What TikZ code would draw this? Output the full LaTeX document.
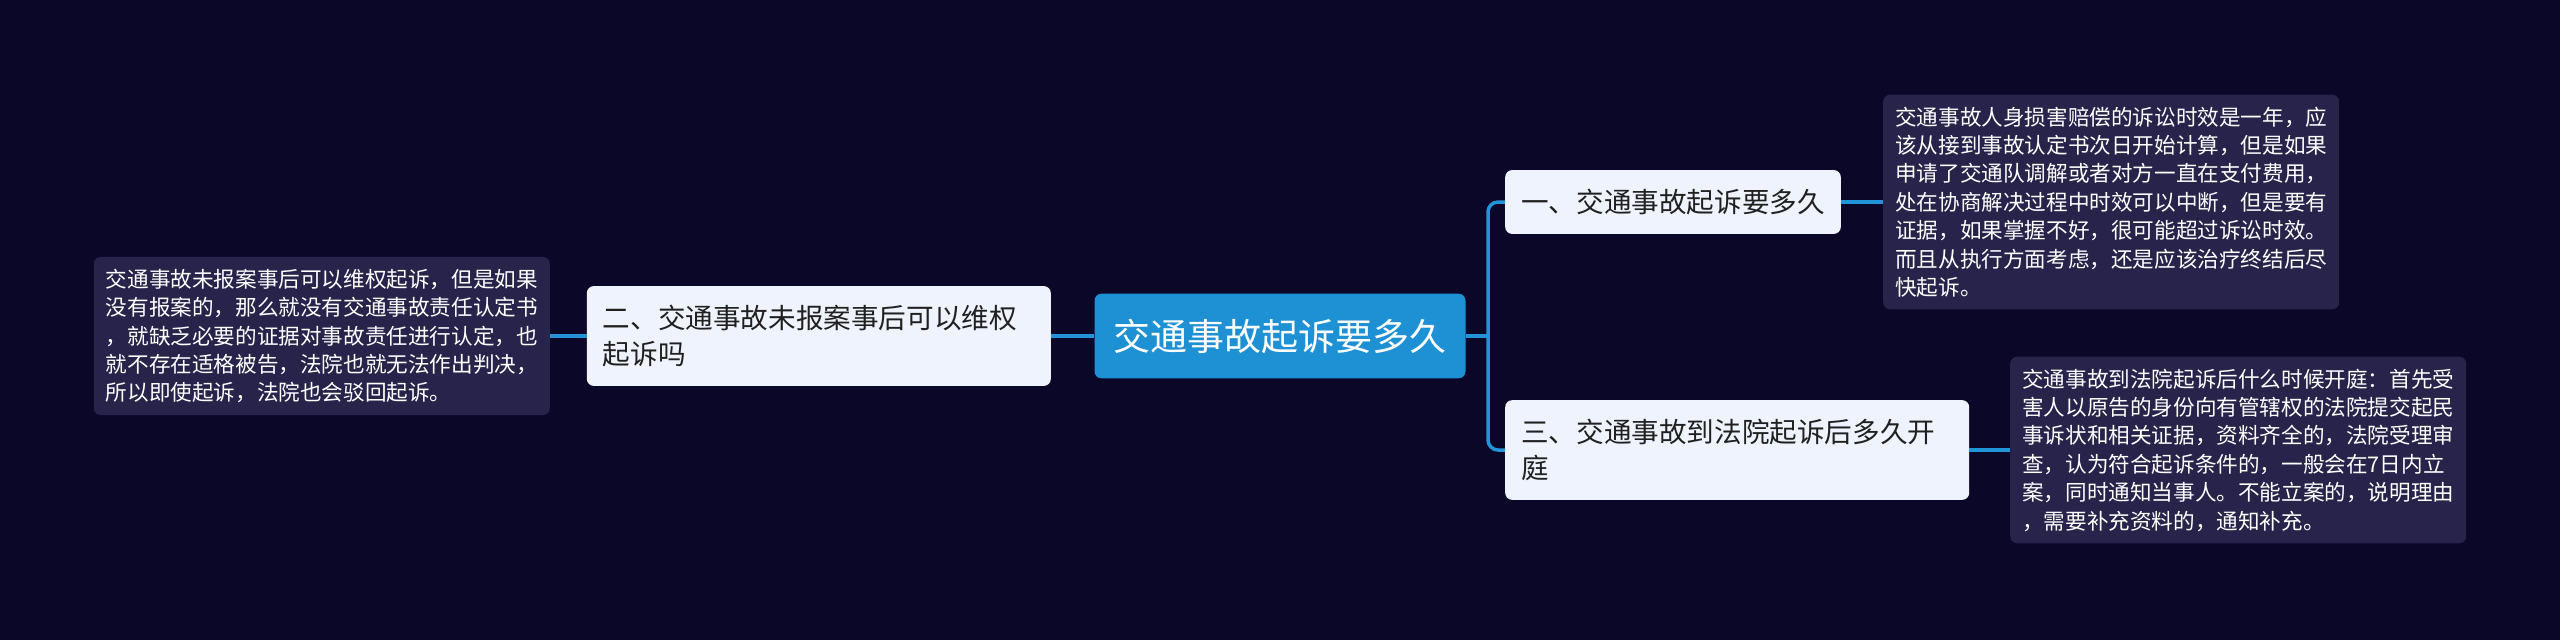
\documentclass[tikz,border=0pt]{standalone}
\usepackage{fontspec}
\setmainfont{Noto Sans CJK SC}
\usetikzlibrary{positioning}
\definecolor{mmbg}{HTML}{0B0729}
\definecolor{mmblue}{HTML}{1E90D4}
\definecolor{mmline}{HTML}{2494D8}
\definecolor{mmtopic}{HTML}{EEF3FD}
\definecolor{mmleaf}{HTML}{27234B}
\definecolor{mmink}{HTML}{202020}

\begin{document}
\begin{tikzpicture}[x=1pt, y=-1pt,
    rootnode/.style={rectangle, rounded corners=7pt, fill=mmblue, text=white, inner xsep=19pt, inner ysep=25pt, font=\fontsize{37}{44}\selectfont},
    topic/.style={rectangle, rounded corners=7pt, fill=mmtopic, text=mmink, inner xsep=16pt, inner ysep=19pt, align=left, font=\fontsize{27.6}{36}\selectfont},
    leaf/.style={rectangle, rounded corners=7pt, fill=mmleaf, text=white, text width=432pt, inner xsep=12pt, inner ysep=12pt, align=left, font=\fontsize{21.6}{28.4}\selectfont},
    link/.style={draw=mmline, line width=3.5pt}]
  \fill[mmbg] (0,0) rectangle (2560,640);
  \useasboundingbox (0,0) rectangle (2560,640);
  % centre and main branches
  \node[rootnode] (root) at (1280,336) {交通事故起诉要多久};
  \node[topic, anchor=west] (one) at (1505,202) {一、交通事故起诉要多久};
  \node[topic, anchor=west, text width=432pt] (three) at (1505,450) {三、交通事故到法院起诉后多久开\\庭};
  \node[topic, anchor=east, text width=432pt] (two) at (1051,336) {二、交通事故未报案事后可以维权\\起诉吗};
  % leaves
  \node[leaf, anchor=west] (leafTR) at (1883,202) {交通事故人身损害赔偿的诉讼时效是一年，应\\该从接到事故认定书次日开始计算，但是如果\\申请了交通队调解或者对方一直在支付费用，\\处在协商解决过程中时效可以中断，但是要有\\证据，如果掌握不好，很可能超过诉讼时效。\\而且从执行方面考虑，还是应该治疗终结后尽\\快起诉。};
  \node[leaf, anchor=west] (leafBR) at (2010,450) {交通事故到法院起诉后什么时候开庭：首先受\\害人以原告的身份向有管辖权的法院提交起民\\事诉状和相关证据，资料齐全的，法院受理审\\查，认为符合起诉条件的，一般会在7日内立\\案，同时通知当事人。不能立案的，说明理由\\，需要补充资料的，通知补充。};
  \node[leaf, anchor=east] (leafL) at (550,336) {交通事故未报案事后可以维权起诉，但是如果\\没有报案的，那么就没有交通事故责任认定书\\，就缺乏必要的证据对事故责任进行认定，也\\就不存在适格被告，法院也就无法作出判决，\\所以即使起诉，法院也会驳回起诉。};
  % connectors
  \coordinate (fork) at (1488,336);
  \draw[link] (root.east) -- (fork);
  \draw[link, rounded corners=10pt] (one.west) -| (fork) |- (three.west);
  \draw[link] (root.west) -- (two.east);
  \draw[link] (two.west) -- (leafL.east);
  \draw[link] (one.east) -- (leafTR.west);
  \draw[link] (three.east) -- (leafBR.west);
\end{tikzpicture}
\end{document}
